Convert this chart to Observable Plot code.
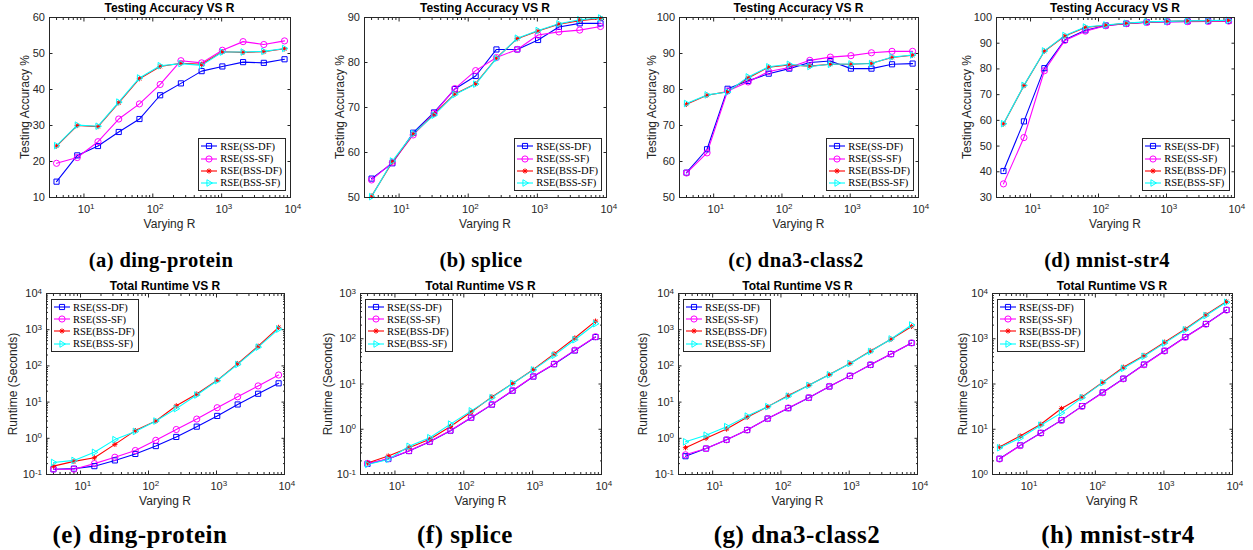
<!DOCTYPE html>
<html><head><meta charset="utf-8">
<script src="https://cdn.jsdelivr.net/npm/d3@7"></script>
<script src="https://cdn.jsdelivr.net/npm/@observablehq/plot@0.6"></script>
<style>
body{margin:0;background:#fff;}
#root{position:relative;width:1253px;height:550px;overflow:hidden;background:#fff;}
.abs{position:absolute;white-space:nowrap;}
.title{font:bold 12px "Liberation Sans",Arial,sans-serif;color:#000;transform:translate(-50%,-50%);}
.xlab{font:12px "Liberation Sans",Arial,sans-serif;color:#262626;transform:translate(-50%,-50%);}
.ylab{font:12px "Liberation Sans",Arial,sans-serif;color:#262626;transform:translate(-50%,-50%) rotate(-90deg);}
.cap{font-family:"Liberation Serif",serif;font-weight:bold;color:#000;transform:translate(-50%,-50%);}
.legend{position:absolute;border:1px solid #262626;background:#fff;padding:1px 3px 1px 1px;font:10.5px "Liberation Serif",serif;color:#000;}
.legend .row{display:flex;align-items:center;height:12.2px;white-space:nowrap;}
.legend svg{margin-right:2px;display:block;}
svg.plot{position:absolute;overflow:visible;}
</style></head><body><div id="root"></div>
<script>
// ---------- data ----------
const R_VALUES = [4, 8, 16, 32, 64, 128, 256, 512, 1024, 2048, 4096, 8192];
const SERIES = ["RSE(SS-DF)", "RSE(SS-SF)", "RSE(BSS-DF)", "RSE(BSS-SF)"];
const COLORS = ["#0000ff", "#ff00ff", "#ff0000", "#00ffff"];
const X_TICKS = [10, 100, 1000, 10000];

// Testing accuracy (%)
const dingAccSSDF  = [14.4, 21.7, 24.3, 28.2, 31.8, 38.4, 41.7, 45.1, 46.4, 47.6, 47.4, 48.4];
const dingAccSSSF  = [19.5, 21.1, 25.5, 31.8, 36.0, 41.4, 48.0, 47.4, 50.9, 53.3, 52.5, 53.5];
const dingAccBSSDF = [24.3, 30.0, 29.7, 36.3, 43.0, 46.4, 47.3, 47.0, 50.5, 50.3, 50.5, 51.3];
const dingAccBSSSF = [24.4, 30.1, 29.8, 36.5, 43.2, 46.6, 47.2, 46.7, 50.4, 50.4, 50.6, 51.4];

const spliceAccSSDF  = [54.2, 57.6, 64.4, 68.9, 74.1, 77.0, 82.9, 82.9, 85.0, 87.9, 88.7, 88.7];
const spliceAccSSSF  = [53.9, 57.8, 63.9, 68.7, 74.2, 78.2, 81.1, 82.9, 86.1, 86.8, 87.2, 88.0];
const spliceAccBSSDF = [50.3, 57.9, 64.1, 68.5, 73.0, 75.3, 81.0, 85.3, 87.0, 88.5, 89.3, 89.8];
const spliceAccBSSSF = [50.2, 58.1, 64.2, 68.3, 72.9, 75.2, 80.9, 85.4, 87.1, 88.6, 89.5, 89.9];

const dnaAccSSDF  = [56.9, 63.4, 80.2, 82.4, 84.4, 85.8, 87.5, 87.9, 85.8, 85.8, 87.0, 87.2];
const dnaAccSSSF  = [56.8, 62.4, 79.6, 82.1, 85.0, 86.1, 88.1, 89.0, 89.4, 90.2, 90.6, 90.6];
const dnaAccBSSDF = [75.9, 78.4, 79.4, 83.2, 86.2, 86.8, 86.5, 87.0, 87.0, 87.3, 88.9, 89.5];
const dnaAccBSSSF = [76.1, 78.5, 79.3, 83.5, 86.3, 87.0, 86.4, 87.0, 87.1, 87.2, 89.0, 89.6];

const mnistAccSSDF  = [40.3, 59.6, 80.3, 91.3, 95.0, 96.9, 97.6, 98.2, 98.4, 98.5, 98.6, 98.7];
const mnistAccSSSF  = [35.3, 53.3, 79.3, 91.1, 94.7, 96.8, 97.6, 98.1, 98.3, 98.4, 98.5, 98.6];
const mnistAccBSSDF = [58.6, 73.5, 86.9, 92.8, 96.1, 97.0, 97.7, 98.2, 98.5, 98.6, 98.7, 98.8];
const mnistAccBSSSF = [58.7, 73.6, 87.0, 93.0, 96.3, 97.1, 97.8, 98.3, 98.5, 98.7, 98.8, 98.9];

// Total runtime (seconds)
const dingTimeSSDF  = [0.14, 0.145, 0.17, 0.245, 0.37, 0.61, 1.09, 2.1, 4.15, 8.6, 17, 33];
const dingTimeSSSF  = [0.14, 0.14, 0.2, 0.3, 0.46, 0.88, 1.75, 3.4, 7.0, 14, 28, 56];
const dingTimeBSSDF = [0.17, 0.23, 0.29, 0.68, 1.63, 3.0, 7.9, 16.7, 40, 116, 350, 1160];
const dingTimeBSSSF = [0.215, 0.245, 0.41, 0.92, 1.55, 3.0, 6.6, 15.7, 39, 110, 330, 1040];

const spliceTimeSSDF  = [0.172, 0.22, 0.33, 0.53, 0.93, 1.8, 3.5, 7.1, 14.6, 27.4, 55, 109];
const spliceTimeSSSF  = [0.175, 0.222, 0.335, 0.535, 0.94, 1.82, 3.55, 7.2, 14.8, 27.8, 56, 111];
const spliceTimeBSSDF = [0.18, 0.256, 0.39, 0.6, 1.15, 2.4, 5.2, 10.3, 21, 46.4, 104, 245];
const spliceTimeBSSSF = [0.167, 0.215, 0.42, 0.65, 1.3, 2.55, 5.0, 10.3, 20.5, 43, 95, 215];

const dnaTimeSSDF  = [0.32, 0.52, 0.91, 1.69, 3.5, 6.8, 13.2, 27, 53, 107, 212, 430];
const dnaTimeSSSF  = [0.35, 0.52, 0.91, 1.7, 3.5, 6.9, 13.3, 27, 53, 108, 213, 432];
const dnaTimeBSSDF = [0.55, 1.0, 1.8, 3.8, 7.5, 15.3, 29, 57.5, 117, 257, 545, 1230];
const dnaTimeBSSSF = [0.80, 1.22, 2.1, 4.1, 7.5, 14.6, 29, 57, 117, 250, 555, 1350];

const mnistTimeSSDF  = [2.23, 4.4, 8.3, 15.9, 32.5, 65, 131, 269, 541, 1090, 2120, 4330];
const mnistTimeSSSF  = [2.2, 4.35, 8.2, 15.7, 32, 64, 130, 266, 535, 1080, 2100, 4300];
const mnistTimeBSSDF = [4.05, 7.1, 12.9, 28.8, 52, 109, 235, 427, 843, 1640, 3410, 6640];
const mnistTimeBSSSF = [3.9, 6.4, 12.3, 23, 50, 107, 222, 410, 800, 1580, 3260, 6400];

// Tick values
const dingAccTicks = [10, 20, 30, 40, 50, 60];
const spliceAccTicks = [50, 60, 70, 80, 90];
const dnaAccTicks = [50, 60, 70, 80, 90, 100];
const mnistAccTicks = [30, 40, 50, 60, 70, 80, 90, 100];
const timeTicks4 = [0.1, 1, 10, 100, 1000, 10000];
const timeTicks3 = [0.1, 1, 10, 100, 1000];
const timeTicksMnist = [1, 10, 100, 1000, 10000];

// ---------- layout ----------
const PANELS = [
  {title: "Testing Accuracy VS R", ylabel: "Testing Accuracy %", caption: "(a) ding-protein", box: [49, 17, 290, 197], yDomain: [10, 60], yTicks: dingAccTicks, log: false, series: [dingAccSSDF, dingAccSSSF, dingAccBSSDF, dingAccBSSSF], ylabOff: 24, capX: 161, legend: "br"},
  {title: "Testing Accuracy VS R", ylabel: "Testing Accuracy %", caption: "(b) splice", box: [364, 17, 606, 197], yDomain: [50, 90], yTicks: spliceAccTicks, log: false, series: [spliceAccSSDF, spliceAccSSSF, spliceAccBSSDF, spliceAccBSSSF], ylabOff: 24, capX: 481, legend: "br"},
  {title: "Testing Accuracy VS R", ylabel: "Testing Accuracy %", caption: "(c) dna3-class2", box: [679, 17, 918, 197], yDomain: [50, 100], yTicks: dnaAccTicks, log: false, series: [dnaAccSSDF, dnaAccSSSF, dnaAccBSSDF, dnaAccBSSSF], ylabOff: 27, capX: 796, legend: "br"},
  {title: "Testing Accuracy VS R", ylabel: "Testing Accuracy %", caption: "(d) mnist-str4", box: [996, 17, 1234, 197], yDomain: [30, 100], yTicks: mnistAccTicks, log: false, series: [mnistAccSSDF, mnistAccSSSF, mnistAccBSSDF, mnistAccBSSSF], ylabOff: 29, capX: 1107, legend: "br"},
  {title: "Total Runtime VS R", ylabel: "Runtime (Seconds)", caption: "(e) ding-protein", box: [46, 293, 284, 474], yDomain: [0.1, 10000], yTicks: timeTicks4, log: true, series: [dingTimeSSDF, dingTimeSSSF, dingTimeBSSDF, dingTimeBSSSF], ylabOff: 33, capX: 140, legend: "tl"},
  {title: "Total Runtime VS R", ylabel: "Runtime (Seconds)", caption: "(f) splice", box: [360, 293, 601, 474], yDomain: [0.1, 1000], yTicks: timeTicks3, log: true, series: [spliceTimeSSDF, spliceTimeSSSF, spliceTimeBSSDF, spliceTimeBSSSF], ylabOff: 32, capX: 465, legend: "tl"},
  {title: "Total Runtime VS R", ylabel: "Runtime (Seconds)", caption: "(g) dna3-class2", box: [678, 293, 917, 474], yDomain: [0.1, 10000], yTicks: timeTicks4, log: true, series: [dnaTimeSSDF, dnaTimeSSSF, dnaTimeBSSDF, dnaTimeBSSSF], ylabOff: 35, capX: 797, legend: "tl"},
  {title: "Total Runtime VS R", ylabel: "Runtime (Seconds)", caption: "(h) mnist-str4", box: [992, 293, 1232, 474], yDomain: [1, 10000], yTicks: timeTicksMnist, log: true, series: [mnistTimeSSDF, mnistTimeSSSF, mnistTimeBSSDF, mnistTimeBSSSF], ylabOff: 29, capX: 1118, legend: "tl"}
];
const X_DOMAIN = [3.16, 10000];

// ---------- symbols ----------
const triRight = {draw(ctx, size) { const r = Math.sqrt(size / Math.PI) * 1.15; ctx.moveTo(r, 0); ctx.lineTo(-r * 0.6, -r * 0.95); ctx.lineTo(-r * 0.6, r * 0.95); ctx.closePath(); }};
const star8 = {draw(ctx, size) { const r = Math.sqrt(size / Math.PI); for (let k = 0; k < 4; k++) { const a = k * Math.PI / 4; ctx.moveTo(r * Math.cos(a), r * Math.sin(a)); ctx.lineTo(-r * Math.cos(a), -r * Math.sin(a)); } }};
const SYMBOLS = [d3.symbolSquare, d3.symbolCircle, star8, triRight];
const SYMBOL_R = [2.9, 3.1, 2.6, 3.0];

function minorLog([lo, hi]) {
  const out = [];
  for (let e = Math.floor(Math.log10(lo)); e <= Math.ceil(Math.log10(hi)); e++) {
    for (let m = 2; m <= 9; m++) { const v = m * Math.pow(10, e); if (v > lo * 1.0001 && v < hi * 0.9999) out.push(v); }
  }
  return out;
}
const expFmt = d => "10^" + Math.round(Math.log10(d));
const blank = () => "";
const AX = "#262626";

const root = document.getElementById("root");
function addDiv(cls, text, x, y, extra) {
  const d = document.createElement("div");
  d.className = "abs " + cls; d.textContent = text;
  d.style.left = x + "px"; d.style.top = y + "px";
  if (extra) Object.assign(d.style, extra);
  root.appendChild(d); return d;
}

function fixExponents(svg) {
  svg.querySelectorAll('g[aria-label$="tick label"] text').forEach(t => {
    const m = /^10\^(-?\d+)$/.exec(t.textContent);
    if (!m) return;
    const isX = t.parentNode.getAttribute("aria-label").startsWith("x");
    t.textContent = "10";
    const ts = document.createElementNS("http://www.w3.org/2000/svg", "tspan");
    ts.setAttribute("dy", "-0.42em");
    ts.setAttribute("font-size", "8px");
    ts.textContent = m[1];
    t.appendChild(ts);
    if (isX) { t.setAttribute("text-anchor", "start"); t.setAttribute("dx", "-0.556em"); }
  });
}

PANELS.forEach(p => {
  const [x0, y0, x1, y1] = p.box;
  const mL = 45, mR = 12, mT = 8, mB = 30;
  const rows = [];
  p.series.forEach((arr, si) => arr.forEach((v, i) => rows.push({R: R_VALUES[i], v, s: SERIES[si]})));
  const xMinor = minorLog(X_DOMAIN);
  const yMinor = p.log ? minorLog(p.yDomain) : [];
  const yFmt = p.log ? expFmt : (d => String(d));
  const marks = [
    Plot.axisX({anchor: "bottom", ticks: X_TICKS, tickSize: -3.5, tickPadding: 11, tickFormat: expFmt, label: null, stroke: AX, fill: AX, fontSize: 11}),
    Plot.axisX({anchor: "top", ticks: X_TICKS, tickSize: -3.5, tickFormat: blank, label: null, stroke: AX}),
    Plot.axisX({anchor: "bottom", ticks: xMinor, tickSize: -2, tickFormat: blank, label: null, stroke: AX}),
    Plot.axisX({anchor: "top", ticks: xMinor, tickSize: -2, tickFormat: blank, label: null, stroke: AX}),
    Plot.axisY({anchor: "left", ticks: p.yTicks, tickSize: -3.5, tickPadding: 8, tickFormat: yFmt, label: null, stroke: AX, fill: AX, fontSize: 11}),
    Plot.axisY({anchor: "right", ticks: p.yTicks, tickSize: -3.5, tickFormat: blank, label: null, stroke: AX})
  ];
  if (p.log) {
    marks.push(Plot.axisY({anchor: "left", ticks: yMinor, tickSize: -2, tickFormat: blank, label: null, stroke: AX}));
    marks.push(Plot.axisY({anchor: "right", ticks: yMinor, tickSize: -2, tickFormat: blank, label: null, stroke: AX}));
  }
  marks.push(Plot.line(rows, {x: "R", y: "v", z: "s", stroke: "s", strokeWidth: 1.1}));
  SERIES.forEach((name, si) => {
    marks.push(Plot.dot(rows.filter(d => d.s === name), {x: "R", y: "v", stroke: COLORS[si], fill: "none", strokeWidth: 1, symbol: SYMBOLS[si], r: SYMBOL_R[si]}));
  });
  marks.push(Plot.frame({stroke: AX, strokeWidth: 1}));
  const svg = Plot.plot({
    width: (x1 - x0) + mL + mR, height: (y1 - y0) + mT + mB,
    marginLeft: mL, marginRight: mR, marginTop: mT, marginBottom: mB,
    style: {fontFamily: "'Liberation Sans', Arial, sans-serif", fontSize: "11px", color: AX, background: "transparent", overflow: "visible"},
    x: {type: "log", domain: X_DOMAIN},
    y: {type: p.log ? "log" : "linear", domain: p.yDomain},
    color: {domain: SERIES, range: COLORS},
    marks
  });
  svg.classList.add("plot");
  svg.style.left = (x0 - mL) + "px";
  svg.style.top = (y0 - mT) + "px";
  root.appendChild(svg);
  fixExponents(svg);

  const cx = (x0 + x1) / 2, cy = (y0 + y1) / 2;
  const top = p.legend === "br";
  addDiv("title", p.title, cx, top ? y0 - 9 : y0 - 7);
  addDiv("xlab", "Varying R", cx, y1 + 27);
  addDiv("ylab", p.ylabel, x0 - p.ylabOff, cy);
  addDiv("cap", p.caption, p.capX, top ? 260 : 535, {fontSize: top ? "20.5px" : "25px", letterSpacing: top ? "0.4px" : "0.5px"});

  // legend
  const lg = document.createElement("div");
  lg.className = "legend";
  if (top) { lg.style.right = (1253 - (x1 - 4)) + "px"; lg.style.bottom = (550 - (y1 - 6)) + "px"; }
  else { lg.style.left = (x0 + 5) + "px"; lg.style.top = (y0 + 6) + "px"; }
  SERIES.forEach((name, si) => {
    const row = document.createElement("div"); row.className = "row";
    const s = d3.create("svg").attr("width", 18).attr("height", 10);
    s.append("line").attr("x1", 1).attr("x2", 17).attr("y1", 5).attr("y2", 5).attr("stroke", COLORS[si]).attr("stroke-width", 1.1);
    s.append("path").attr("transform", "translate(9,5)").attr("d", d3.symbol(SYMBOLS[si], SYMBOL_R[si] * SYMBOL_R[si] * Math.PI)()).attr("fill", "none").attr("stroke", COLORS[si]);
    row.appendChild(s.node());
    const sp = document.createElement("span"); sp.textContent = name; row.appendChild(sp);
    lg.appendChild(row);
  });
  root.appendChild(lg);
});
</script></body></html>
